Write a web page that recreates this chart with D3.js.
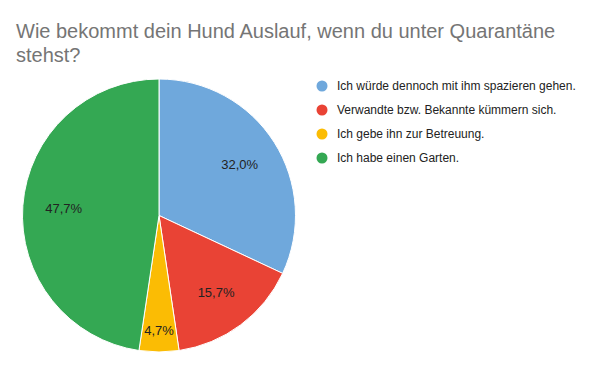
<!DOCTYPE html>
<html>
<head>
<meta charset="utf-8">
<script src="https://cdn.jsdelivr.net/npm/d3@7"></script>
<style>
  body { margin: 0; background: #fff; }
  text { font-family: Arial, "Liberation Sans", sans-serif; }
</style>
</head>
<body>
<div id="chart"></div>
<script>
const w = 600, h = 371;

const titleLines = ["Wie bekommt dein Hund Auslauf, wenn du unter Quarantäne", "stehst?"];
const categories = [
  "Ich würde dennoch mit ihm spazieren gehen.",
  "Verwandte bzw. Bekannte kümmern sich.",
  "Ich gebe ihn zur Betreuung.",
  "Ich habe einen Garten."
];
const values = [32.0, 15.7, 4.7, 47.7];
const colors = ["#6fa8dc", "#e94335", "#fbbc04", "#34a853"];

const svg = d3.select("#chart")
  .append("svg")
  .attr("width", w)
  .attr("height", h);

// title
svg.append("g")
  .selectAll("text")
  .data(titleLines)
  .join("text")
  .attr("x", 16)
  .attr("y", (d, i) => 38 + i * 24)
  .attr("fill", "#757575")
  .style("font-size", "20px")
  .text(d => d);

const cx = 159, cy = 215.5, r = 136.5;
const data = categories.map((c, i) => ({name: c, value: values[i], color: colors[i]}));

const pie = d3.pie().value(d => d.value).sort(null);
const arc = d3.arc().innerRadius(0).outerRadius(r);
const arcs = pie(data);

const g = svg.append("g").attr("transform", `translate(${cx},${cy})`);

g.selectAll("path")
  .data(arcs)
  .join("path")
  .attr("d", arc)
  .attr("fill", d => d.data.color)
  .attr("stroke", "#fff")
  .attr("stroke-width", 1);

// labels - small slices get pushed outward
const fmt = v => v.toFixed(1).replace(".", ",") + "%";
g.selectAll("text")
  .data(arcs)
  .join("text")
  .attr("transform", d => {
    const lr = d.data.value < 10 ? r * 0.84 : r * 0.7;
    const a = (d.startAngle + d.endAngle) / 2;
    return `translate(${Math.sin(a) * lr},${-Math.cos(a) * lr})`;
  })
  .attr("text-anchor", "middle")
  .attr("dy", "0.35em")
  .attr("fill", "#222")
  .style("font-size", "13px")
  .text(d => fmt(d.data.value));

// legend
const legend = svg.append("g")
  .selectAll("g")
  .data(data)
  .join("g")
  .attr("transform", (d, i) => `translate(322,${86 + i * 24})`);

legend.append("circle")
  .attr("r", 5.5)
  .attr("fill", d => d.color);

legend.append("text")
  .attr("x", 15)
  .attr("dy", "0.35em")
  .attr("fill", "#222")
  .style("font-size", "12px")
  .text(d => d.name);
</script>
</body>
</html>
